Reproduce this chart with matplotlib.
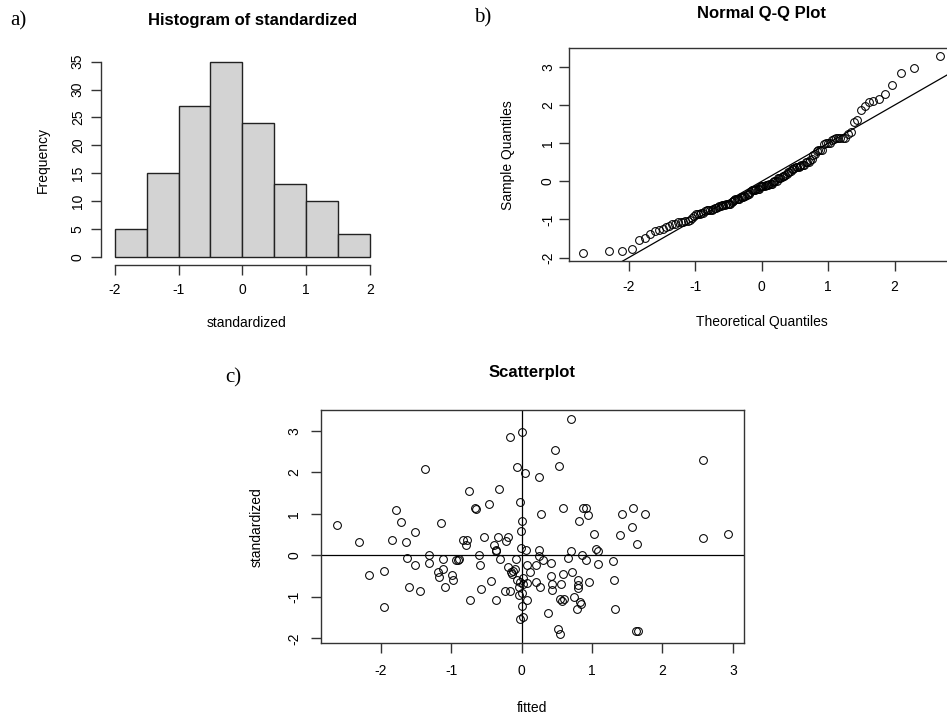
import numpy as np
import matplotlib.pyplot as plt
from statistics import NormalDist

plt.rcParams['font.family'] = ['Liberation Sans', 'DejaVu Sans']
plt.rcParams['axes.unicode_minus'] = False

# --- data ---
hist_edges = [-2.0, -1.5, -1.0, -0.5, 0.0, 0.5, 1.0, 1.5, 2.0]
hist_counts = [5, 15, 27, 35, 24, 13, 10, 4]

fitted = [-2.63, -2.31, -2.17, -1.96, -1.95, -1.84, -1.78, -1.72, -1.65, -1.63,
          -1.60, -1.51, -1.51, -1.45, -1.38, -1.31, -1.32, -1.19, -1.17, -1.15,
          -1.12, -1.12, -1.09, -0.99, -0.97, -0.94, -0.90, -0.89, -0.83, -0.77,
          -0.79, -0.75, -0.73, -0.66, -0.65, -0.60, -0.59, -0.58, -0.54, -0.46,
          -0.43, -0.39, -0.37, -0.36, -0.36, -0.32, -0.33, -0.31, -0.23, -0.22,
          -0.19, -0.20, -0.17, -0.17, -0.15, -0.14, -0.12, -0.10, -0.08, -0.06,
          -0.06, -0.04, -0.04, -0.02, -0.02, -0.01, 0.00, -0.01, -0.03, 0.01,
          0.02, 0.02, 0.01, 0.01, 0.02, 0.05, 0.06, 0.07, 0.07, 0.08,
          0.12, 0.20, 0.21, 0.24, 0.24, 0.25, 0.26, 0.28, 0.30, 0.38,
          0.41, 0.41, 0.43, 0.43, 0.47, 0.51, 0.53, 0.54, 0.55, 0.56,
          0.57, 0.58, 0.58, 0.60, 0.66, 0.70, 0.71, 0.70, 0.74, 0.78,
          0.80, 0.80, 0.80, 0.82, 0.83, 0.84, 0.86, 0.87, 0.92, 0.91,
          0.94, 0.95, 1.02, 1.06, 1.09, 1.08, 1.29, 1.31, 1.32, 1.40,
          1.43, 1.56, 1.58, 1.64, 1.75, 1.62, 1.65, 2.57, 2.58, 2.93]

standardized = [0.73, 0.32, -0.47, -0.38, -1.24, 0.38, 1.08, 0.81, 0.32, -0.06,
                -0.76, 0.57, -0.23, -0.85, 2.08, 0.00, -0.19, -0.41, -0.51, 0.79,
                -0.08, -0.33, -0.76, -0.47, -0.59, -0.12, -0.11, -0.10, 0.38, 0.38,
                0.24, 1.56, -1.08, 1.13, 1.12, 0.02, -0.23, -0.82, 0.44, 1.24,
                -0.61, 0.24, 0.12, 0.10, -1.08, 1.60, 0.44, -0.09, -0.86, 0.35,
                0.43, -0.28, 2.84, -0.85, -0.39, -0.46, -0.37, -0.34, -0.10, 2.12,
                -0.59, -0.96, -0.75, -0.63, 1.29, 0.59, 0.83, 0.18, -1.54, 2.97,
                -0.68, -1.48, -1.21, -0.91, -0.55, 1.97, 0.14, -0.24, -0.66, -1.08,
                -0.40, -0.24, -0.65, 0.13, 1.88, -0.02, -0.75, 1.00, -0.11, -1.38,
                -0.19, -0.50, -0.70, -0.84, 2.53, -1.77, 2.15, -1.04, -1.89, -0.70,
                -1.11, 1.14, -0.46, -1.05, -0.06, 0.10, -0.40, 3.29, -1.01, -1.28,
                -0.59, -0.72, -0.78, 0.83, -1.12, -1.17, 0.02, 1.13, 1.13, -0.12,
                0.98, -0.63, 0.51, 0.16, 0.10, -0.20, -0.14, -0.59, -1.30, 0.50,
                1.00, 0.68, 1.15, 0.28, 1.00, -1.83, -1.82, 2.29, 0.41, 0.52]

W, H = 947, 717
fig = plt.figure(figsize=(W / 100, H / 100), dpi=100)

AXCOL = '#333333'


def add_axes_px(left, top, right, bottom):
    return fig.add_axes([left / W, 1 - bottom / H, (right - left) / W, (bottom - top) / H])


def r_style(ax, xticks, yticks, xpad, ypad):
    ax.set_xticks(xticks)
    ax.set_yticks(yticks)
    for s in ax.spines.values():
        s.set_linewidth(1.0)
        s.set_color(AXCOL)
    ax.tick_params(direction='out', length=7, width=1.0, color=AXCOL, labelsize=10)
    ax.tick_params(axis='x', pad=xpad)
    ax.tick_params(axis='y', pad=ypad, labelrotation=90)
    plt.setp(ax.get_yticklabels(), va='center')


def place_text(ax, left, top, right, bottom, title, tpos, xlab, xpos, ylab, ypos):
    w, h = right - left, bottom - top
    ax.set_title(title, fontsize=12, fontweight='bold', va='center', pad=0,
                 x=(tpos[0] - left) / w, y=(bottom - tpos[1]) / h)
    ax.set_xlabel(xlab, fontsize=10, va='center')
    ax.xaxis.set_label_coords((xpos[0] - left) / w, (bottom - xpos[1]) / h)
    ax.set_ylabel(ylab, fontsize=10, va='center')
    ax.yaxis.set_label_coords((ypos[0] - left) / w, (bottom - ypos[1]) / h)


def panel_letter(s, x, y):
    fig.text(x / W, 1 - y / H, s, family=['Liberation Serif', 'DejaVu Serif'],
             fontsize=15, ha='center', va='center')


# ---------------- a) histogram ----------------
A = (101, 53.9, 383.7, 264.5)
ax1 = add_axes_px(*A)
edges = np.array(hist_edges)
ax1.bar(edges[:-1], hist_counts, width=np.diff(edges), align='edge',
        color='#d3d3d3', edgecolor='#222222', linewidth=1.0)
ax1.set_xlim(-2.215, 2.215)
ax1.set_ylim(-1.4, 36.4)
r_style(ax1, [-2, -1, 0, 1, 2], [0, 5, 10, 15, 20, 25, 30, 35], 6, 4.7)
ax1.spines['top'].set_visible(False)
ax1.spines['right'].set_visible(False)
ax1.spines['left'].set_bounds(0, 35)
ax1.spines['bottom'].set_bounds(-2, 2)
place_text(ax1, *A, 'Histogram of standardized', (253, 20),
           'standardized', (247, 323), 'Frequency', (43, 160))
panel_letter('a)', 18, 21)

# ---------------- b) normal Q-Q ----------------
B = (568.8, 48.1, 954.6, 261.2)
ax2 = add_axes_px(*B)
sample = np.sort(np.array(standardized))
n = len(sample)
nd = NormalDist()
theo = np.array([nd.inv_cdf((i - 0.5) / n) for i in range(1, n + 1)])
ax2.plot(theo, sample, 'o', mfc='none', mec='black', ms=5.6, mew=0.75)
ax2.axline((0, 0), slope=1, color='black', linewidth=0.9)
ax2.set_xlim(-2.905, 2.905)
ax2.set_ylim(-2.097, 3.497)
r_style(ax2, [-2, -1, 0, 1, 2], [-2, -1, 0, 1, 2, 3], 6.3, 3)
place_text(ax2, *B, 'Normal Q-Q Plot', (761.7, 14),
           'Theoretical Quantiles', (761.7, 322), 'Sample Quantiles', (508, 155))
panel_letter('b)', 483, 18)

# ---------------- c) scatterplot ----------------
C = (320.9, 410, 743.6, 642.5)
ax3 = add_axes_px(*C)
ax3.plot(fitted, standardized, 'o', mfc='none', mec='black', ms=5.6, mew=0.75)
ax3.axhline(0, color='black', linewidth=0.9)
ax3.axvline(0, color='black', linewidth=0.9)
ax3.set_xlim(-2.852, 3.152)
ax3.set_ylim(-2.097, 3.497)
r_style(ax3, [-2, -1, 0, 1, 2, 3], [-2, -1, 0, 1, 2, 3], 8.5, 7.2)
place_text(ax3, *C, 'Scatterplot', (532.5, 372.7),
           'fitted', (532, 708), 'standardized', (257, 527))
panel_letter('c)', 233, 378)

fig.savefig('out.png', dpi=100)
